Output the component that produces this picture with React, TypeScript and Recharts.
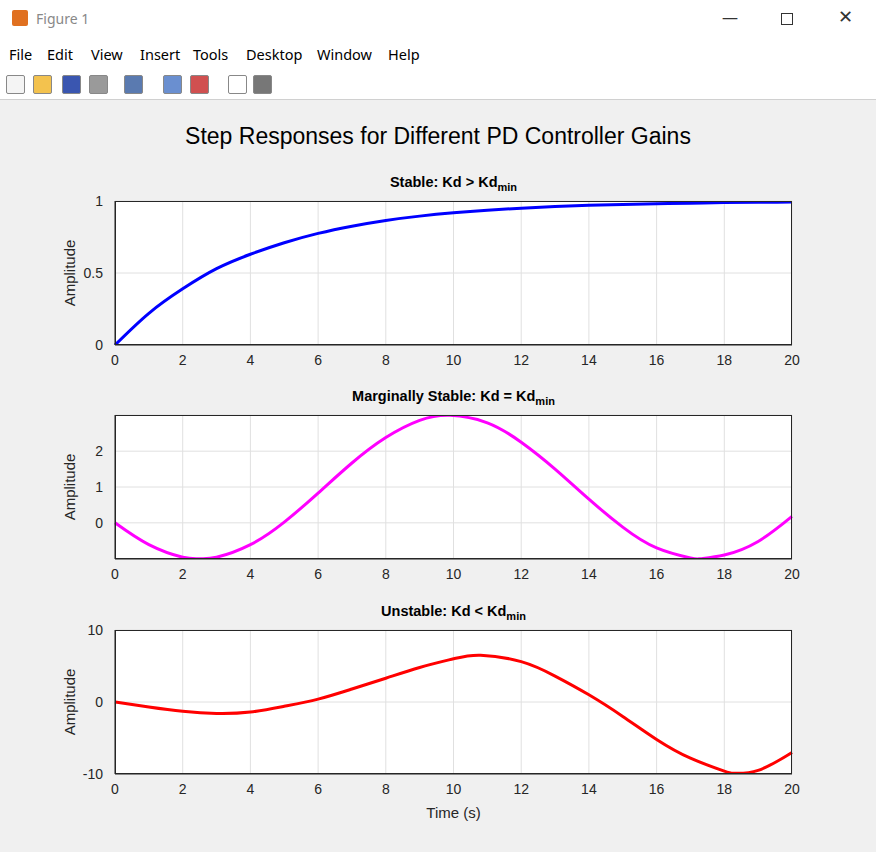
import React from "react";
import { LineChart, Line, XAxis, YAxis, CartesianGrid } from "recharts";

const tStable = [0,1,2,3,4,5,6,7,8,9,10,11,12,13,14,15,16,17,18,19,20];
const yStable = [0,0.22,0.39,0.53,0.63,0.71,0.775,0.825,0.865,0.895,0.918,0.936,0.95,0.961,0.97,0.976,0.981,0.985,0.989,0.991,0.993];
const tMarg = [0,1,2,2.5,3,4,5,6,7,8,9,9.9,11,12,13,14,15,16,17,17.3,18,19,20];
const yMarg = [0,-0.61,-0.96,-1.0,-0.96,-0.61,0.02,0.83,1.67,2.38,2.86,3.0,2.79,2.25,1.5,0.66,-0.12,-0.7,-0.98,-1.0,-0.9,-0.52,0.18];
const tUnst = [0,1,2,3,4,5,6,7,8,9,10,10.8,12,13,14,15,16,17,18,18.3,19,20];
const yUnst = [0,-0.7,-1.3,-1.6,-1.4,-0.6,0.4,1.8,3.3,4.8,6.0,6.5,5.6,3.6,1.0,-2.0,-5.2,-7.8,-9.6,-9.9,-9.5,-7.0];
const xTicks = [0,2,4,6,8,10,12,14,16,18,20];
const menus = ["File","Edit","View","Insert","Tools","Desktop","Window","Help"];

const font = "'Liberation Sans', Arial, sans-serif";
const tickStyle = { fontSize: 14, fill: "#262626", fontFamily: font };

function mk(t: number[], y: number[]) { return t.map((v, i) => ({ t: v, y: y[i] })); }

function Panel({ top, data, color, domain, ticks, title, xlabel }: any) {
  return (
    <div style={{ position: "absolute", left: 0, top }}>
      <div style={{ position: "absolute", left: 115, width: 677, top: 4, textAlign: "center", fontFamily: font, fontWeight: "bold", fontSize: 14.5, color: "#000" }}>
        {title}<sub style={{ fontSize: 11 }}>min</sub>
      </div>
      <LineChart width={876} height={xlabel ? 225 : 205} data={data} margin={{ top: 31, right: 84, bottom: 0, left: 0 }}>
        <CartesianGrid stroke="#e0e0e0" fill="#fff" fillOpacity={1} />
        <XAxis dataKey="t" type="number" domain={[0, 20]} ticks={xTicks} tick={tickStyle} tickLine={false} axisLine={{ stroke: "#262626" }} height={xlabel ? 50 : 30} tickMargin={4}
          label={xlabel ? { value: xlabel, position: "insideBottom", offset: 6, style: { fontSize: 15, fill: "#262626", fontFamily: font } } : undefined} />
        <YAxis type="number" domain={domain} ticks={ticks} allowDataOverflow tick={tickStyle} tickLine={false} axisLine={{ stroke: "#262626" }} width={115} tickMargin={6}
          label={{ value: "Amplitude", angle: -90, position: "insideLeft", offset: 70, style: { fontSize: 15, fill: "#262626", fontFamily: font, textAnchor: "middle" } }} />
        <Line dataKey="y" type="natural" stroke={color} strokeWidth={3} dot={false} isAnimationActive={false} />
      </LineChart>
      <div style={{ position: "absolute", left: 115, top: 31, width: 677, height: 144, border: "1px solid #262626", boxSizing: "border-box", pointerEvents: "none" }} />
    </div>
  );
}

export default function App() {
  return (
    <div style={{ position: "fixed", left: 0, top: 0, width: 876, height: 852, background: "#f0f0f0", fontFamily: "'Segoe UI', 'Noto Sans', sans-serif", overflow: "hidden" }}>
      <div style={{ height: 38, background: "#fff", position: "relative" }}>
        <div style={{ position: "absolute", left: 12, top: 10, width: 16, height: 16, background: "#e07020", borderRadius: 2 }} />
        <span style={{ position: "absolute", left: 36, top: 9, fontSize: 14, color: "#888" }}>Figure 1</span>
        <span style={{ position: "absolute", left: 722, top: 6, fontSize: 16, color: "#333" }}>—</span>
        <div style={{ position: "absolute", left: 781, top: 13, width: 10, height: 10, border: "1px solid #333" }} />
        <span style={{ position: "absolute", left: 838, top: 4, fontSize: 18, color: "#333" }}>✕</span>
      </div>
      <div style={{ height: 30, background: "#fff", position: "relative", fontSize: 14.5, color: "#000" }}>
        {menus.map((m, i) => (
          <span key={m} style={{ position: "absolute", top: 6, left: [9, 47, 91, 140, 193, 246, 317, 388][i] }}>{m}</span>
        ))}
      </div>
      <div style={{ height: 31, background: "#fff", borderBottom: "1px solid #d0d0d0", position: "relative" }}>
        {[6, 33, 62, 89, 124, 163, 190, 228, 253].map((x, i) => (
          <div key={i} style={{ position: "absolute", left: x, top: 7, width: 17, height: 17, background: ["#f4f4f4", "#f3c24e", "#3a56b0", "#9a9a9a", "#5a7ab0", "#6a8fd0", "#d05050", "#fff", "#777"][i], border: "1px solid #888", borderRadius: 2 }} />
        ))}
      </div>
      <div style={{ position: "absolute", left: 0, top: 123, width: 876, textAlign: "center", fontFamily: font, fontSize: 23, color: "#000" }}>
        Step Responses for Different PD Controller Gains
      </div>
      <Panel top={170} data={mk(tStable, yStable)} color="#0000ff" domain={[0, 1]} ticks={[0, 0.5, 1]} title="Stable: Kd > Kd" />
      <Panel top={384} data={mk(tMarg, yMarg)} color="#ff00ff" domain={[-1.01, 3.01]} ticks={[0, 1, 2]} title="Marginally Stable: Kd = Kd" />
      <Panel top={599} data={mk(tUnst, yUnst)} color="#ff0000" domain={[-10, 10]} ticks={[-10, 0, 10]} title="Unstable: Kd < Kd" xlabel="Time (s)" />
    </div>
  );
}
